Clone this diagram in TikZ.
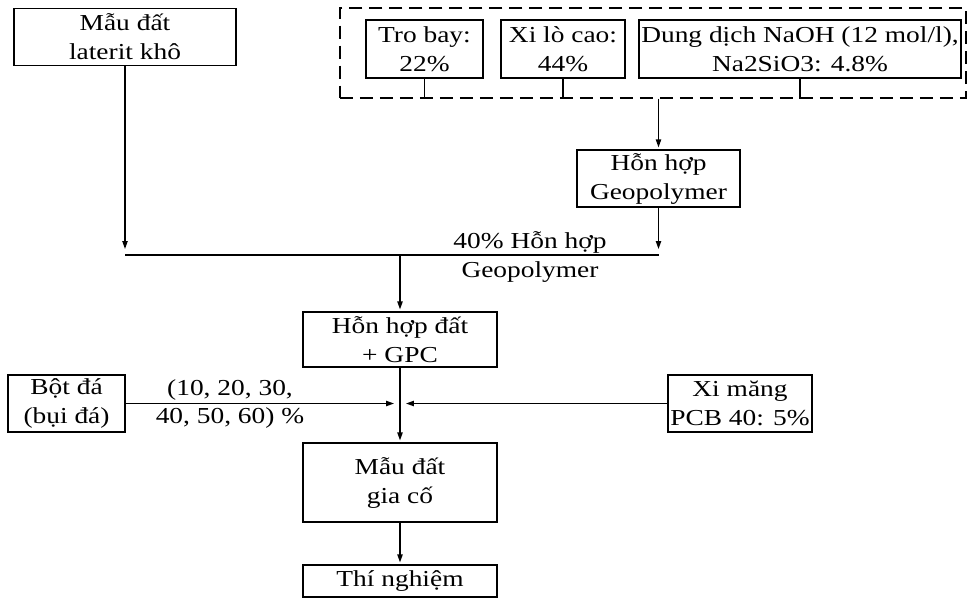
\documentclass[tikz,border=0pt]{standalone}
\usepackage{fontspec}
\setmainfont{Liberation Serif}[FakeStretch=1.2]
\usetikzlibrary{arrows.meta,positioning}

\begin{document}
\begin{tikzpicture}[
  x=0.02cm, y=-0.02cm,
  font=\fontsize{13}{16.5}\selectfont,
  line width=0.7pt,
  box/.style={draw,align=center,inner sep=1pt},
  sz/.style 2 args={minimum width=#1*0.02cm,minimum height=#2*0.02cm},
  grpbox/.style={draw,dashed,dash pattern=on 0.26cm off 0.14cm},
  arr/.style={-{Triangle[length=4.5pt,width=3pt]},shorten >=0.04cm},
  arrj/.style={-{Triangle[length=4.5pt,width=3pt]},shorten >=0.12cm},
  ]
  \useasboundingbox (0,0) rectangle (968,600);
  %Nodes
  \node[box,sz={222}{57}] (lat) at (125,37) {Mẫu đất\\laterit khô};
  \node[grpbox,sz={626}{90}] (grp) at (653,53) {};
  \node[box,sz={117}{58}] (tro) at (424.5,49) {Tro bay:\\22\%};
  \node[box,sz={124}{58}] (xlc) at (563,49) {Xi lò cao:\\44\%};
  \node[box,sz={322}{58}] (dd) at (800,49) {Dung dịch NaOH (12 mol/l),\\Na2SiO3: 4.8\%};
  \node[box,sz={163}{57}] (geo) at (658.5,178.5) {Hỗn hợp\\Geopolymer};
  \node (pct) at (530,257) [align=center] {40\% Hỗn hợp\\Geopolymer};
  \node[box,sz={194}{55}] (mix) at (400,339.5) {Hỗn hợp đất\\+ GPC};
  \node[box,sz={117}{57}] (bot) at (66.5,403.5) {Bột đá\\(bụi đá)};
  \node (ratio) at (230,404) [align=center] {(10, 20, 30,\\40, 50, 60) \%};
  \node[box,sz={144}{57}] (xm) at (740,403.5) {Xi măng\\PCB 40: 5\%};
  \node[box,sz={194}{79}] (gc) at (400,482.5) {Mẫu đất\\gia cố};
  \node[box,sz={194}{32}] (tn) at (400,581) {Thí nghiệm};
  \coordinate (jl) at (125,255);
  \coordinate (jm) at (mix.south |- bot.east);
  %Lines
  \draw (tro.south) -- (tro.south |- grp.south);
  \draw (xlc.south) -- (xlc.south |- grp.south);
  \draw (dd.south) -- (dd.south |- grp.south);
  \draw[arr] (grp.south -| geo.north) -- (geo.north);
  \draw[arrj] (lat.south) -- (lat.south |- jl);
  \draw[arrj] (geo.south) -- (geo.south |- jl);
  \draw (lat.south |- jl) -- (geo.south |- jl);
  \draw[arr] (mix.north |- jl) -- (mix.north);
  \draw[arr] (mix.south) -- (gc.north);
  \draw[arrj] (bot.east) -- (jm);
  \draw[arrj] (xm.west) -- (jm);
  \draw[arr] (gc.south) -- (tn.north);
\end{tikzpicture}
\end{document}
